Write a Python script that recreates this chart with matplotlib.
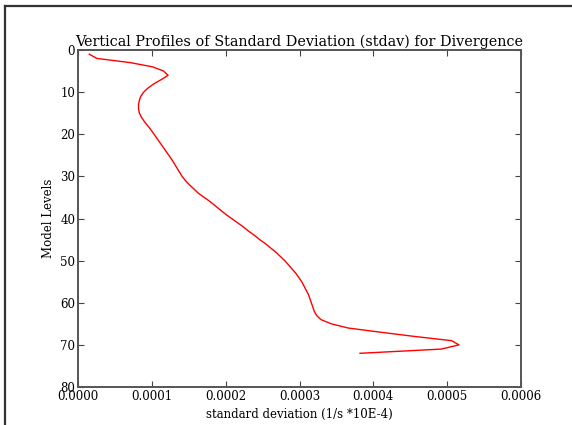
import numpy as np
import matplotlib
matplotlib.use('Agg')
import matplotlib.pyplot as plt
from matplotlib.lines import Line2D

# ==== DATA ====
levels = list(range(1, 73))
stdav = [
    0.0000153, 0.0000255, 0.0000710, 0.0001010, 0.0001160, 0.0001220,
    0.0001130, 0.0001030, 0.0000950, 0.0000890, 0.0000850, 0.0000830,
    0.0000820, 0.0000820, 0.0000832, 0.0000860, 0.0000900, 0.0000945,
    0.0000990, 0.0001030, 0.0001070, 0.0001110, 0.0001150, 0.0001190,
    0.0001230, 0.0001270, 0.0001305, 0.0001340, 0.0001375, 0.0001410,
    0.0001455, 0.0001510, 0.0001570, 0.0001630, 0.0001710, 0.0001790,
    0.0001860, 0.0001930, 0.0002000, 0.0002080, 0.0002160, 0.0002240,
    0.0002310, 0.0002390, 0.0002460, 0.0002540, 0.0002610, 0.0002680,
    0.0002740, 0.0002800, 0.0002850, 0.0002900, 0.0002950, 0.0002990,
    0.0003030, 0.0003060, 0.0003090, 0.0003120, 0.0003140, 0.0003160,
    0.0003180, 0.0003200, 0.0003230, 0.0003290, 0.0003430, 0.0003660,
    0.0004100, 0.0004560, 0.0005060, 0.0005160, 0.0004920, 0.0003820,
]
xticks = [0.0, 0.0001, 0.0002, 0.0003, 0.0004, 0.0005, 0.0006]
yticks = [0, 10, 20, 30, 40, 50, 60, 70, 80]

# ==== FIGURE ====
plt.rcParams['font.family'] = 'DejaVu Serif'
fig = plt.figure(figsize=(5.72, 4.25), dpi=100, facecolor='white')
ax = fig.add_axes([78 / 572, 1 - 387 / 425, 443 / 572, 337 / 425])

ax.plot(stdav, levels, color='red', linewidth=1.0)

ax.set_xlim(0, 0.0006)
ax.set_ylim(80, 0)
ax.set_xticks(xticks)
ax.set_xticklabels(['%.4f' % v for v in xticks])
ax.set_yticks(yticks)
ax.tick_params(direction='in', top=True, right=True, length=4,
               width=0.8, labelsize=8.5, pad=2, color='#444444')
for s in ax.spines.values():
    s.set_color('#555555')
    s.set_linewidth(1.4)

ax.set_title('Vertical Profiles of Standard Deviation (stdav) for Divergence',
             fontsize=10.4, pad=3)
ax.set_xlabel('standard deviation (1/s *10E-4)', fontsize=8.5, labelpad=4)
ax.set_ylabel('Model Levels', fontsize=8.5, labelpad=4)

# window frame seen at left/top of the screenshot
fig.add_artist(Line2D([5 / 572, 1.0], [1 - 6 / 425, 1 - 6 / 425],
                      transform=fig.transFigure, color='#333333', linewidth=1.6))
fig.add_artist(Line2D([5 / 572, 5 / 572], [0.0, 1 - 6 / 425],
                      transform=fig.transFigure, color='#333333', linewidth=1.6))

fig.savefig('out.png', dpi=100, facecolor='white')
